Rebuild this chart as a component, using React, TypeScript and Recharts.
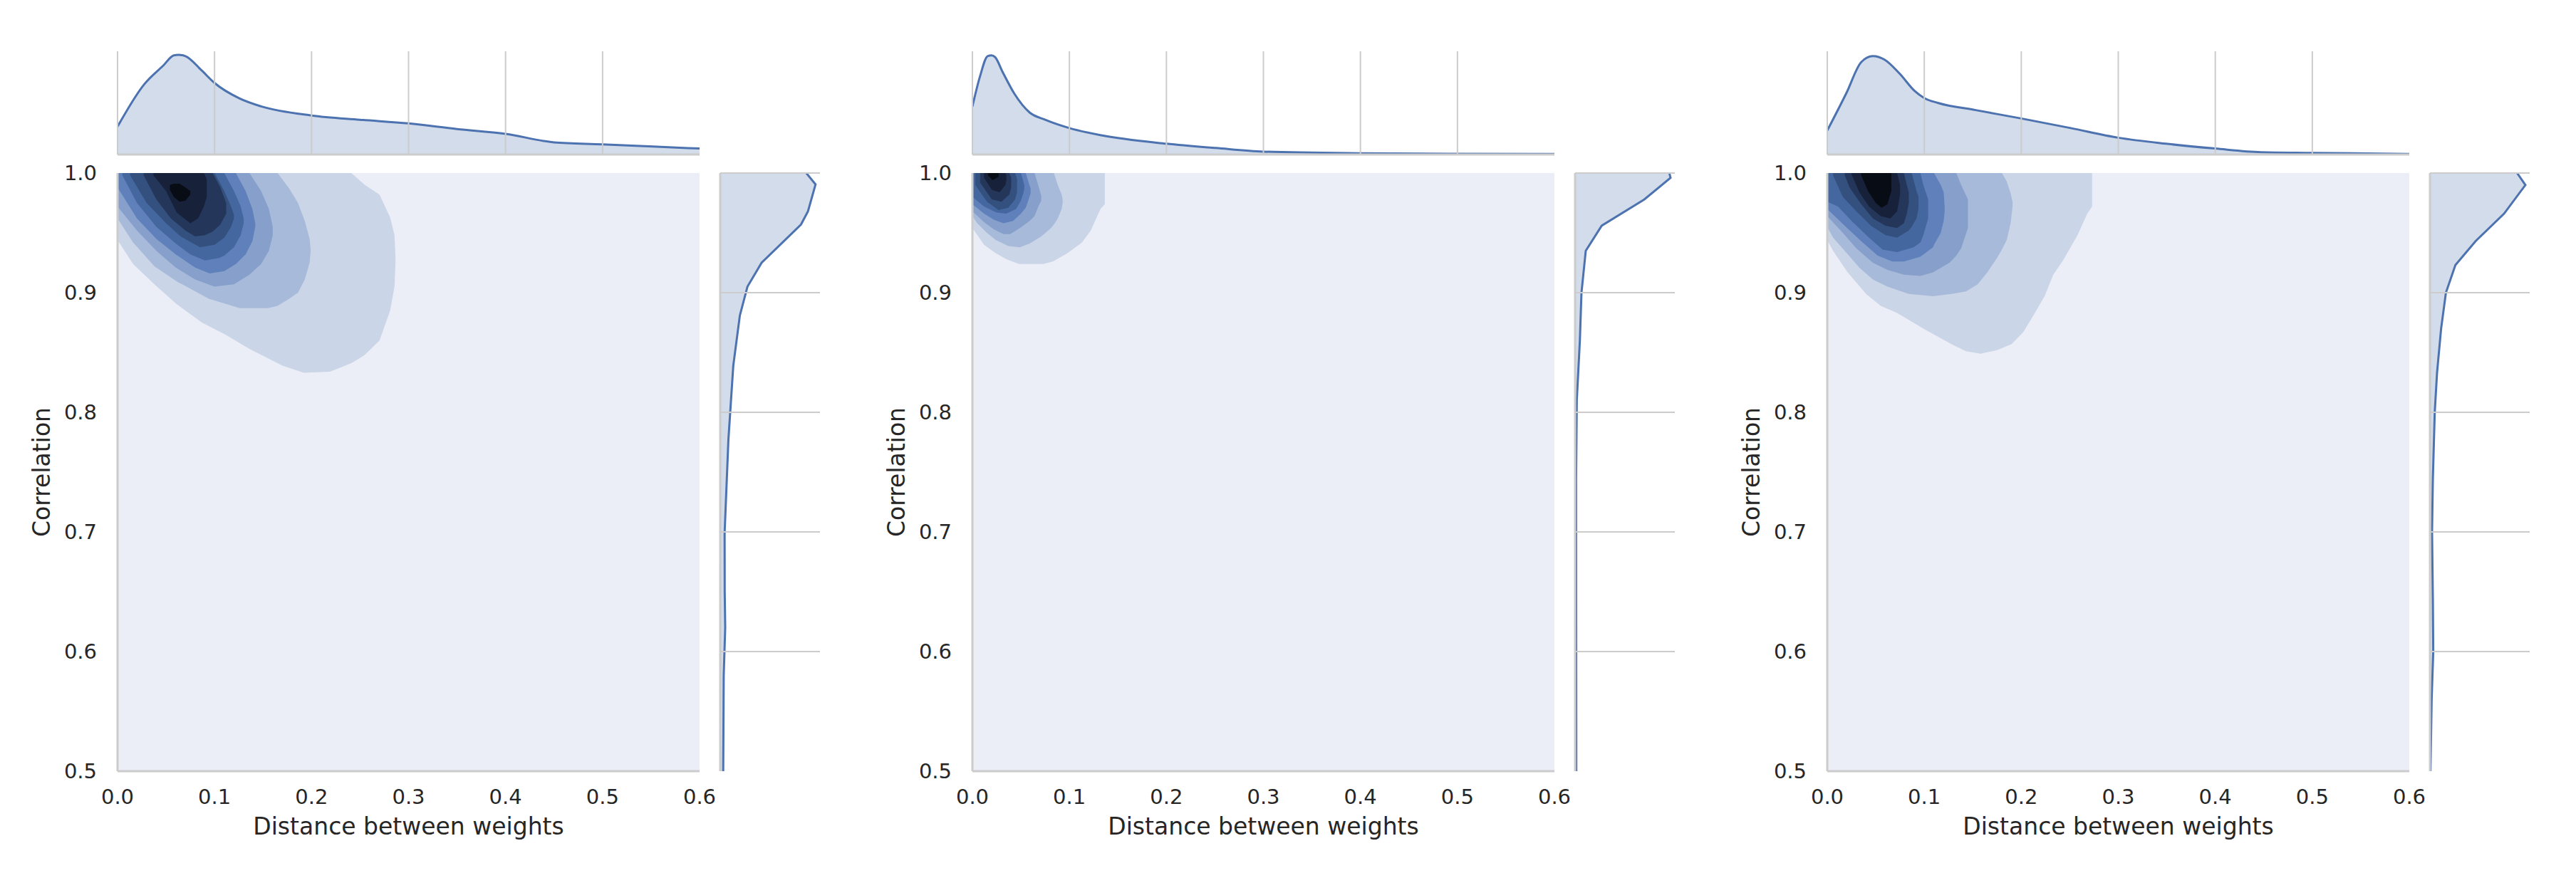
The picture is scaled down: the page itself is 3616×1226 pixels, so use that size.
import React from 'react';
import { ComposedChart, AreaChart, Area, XAxis, YAxis, CartesianGrid, ReferenceLine } from 'recharts';

type Band = [number, number, number];
type Pt = [number, number];

// ---------- axis ticks ----------
const xTicks = [0, 0.1, 0.2, 0.3, 0.4, 0.5, 0.6];
const yTicks = [0.5, 0.6, 0.7, 0.8, 0.9, 1.0];
const topGridTicks = [0, 0.1, 0.2, 0.3, 0.4, 0.5];
const sideGridTicks = [0.6, 0.7, 0.8, 0.9, 1.0];

const xLabel = 'Distance between weights';
const yLabel = 'Correlation';

// ---------- KDE contour level colours (outer -> inner) ----------
const bgColor = '#EBEEF6';
const levelColors = ['#CAD5E7', '#A8BAD9', '#86A0CB', '#5F80BA', '#4567A0', '#33507E', '#24375A', '#17223A', '#080C14'];
const lineColor = '#4C72B0';
const gridColor = '#CCCCCC';

// ---------- panel 1 contour bands: [x, yLow, yHigh] ----------
const p1Levels: Band[][] = [
  [[0, .944, 1], [.016, .924, 1], [.038, .907, 1], [.06, .891, 1], [.087, .875, 1], [.111, .865, 1], [.136, .853, 1], [.17, .839, 1], [.192, .833, 1], [.219, .834, 1], [.241, .841, 1], [.255, .848, .99], [.27, .86, .982], [.281, .885, .963], [.2855, .905, .948], [.2865, .925, .93]],
  [[0, .962, 1], [.016, .942, 1], [.038, .922, 1], [.062, .909, 1], [.094, .895, 1], [.126, .887, 1], [.155, .887, 1], [.165, .889, 1], [.177, .895, .987], [.186, .9, .975], [.193, .911, .96], [.198, .925, .945], [.199, .934, .936]],
  [[0, .972, 1], [.02, .952, 1], [.04, .935, 1], [.06, .921, 1], [.08, .911, 1], [.1, .905, 1], [.12, .907, 1], [.136, .915, 1], [.148, .924, .985], [.156, .935, .97], [.16, .948, .955]],
  [[0, .988, 1], [.02, .962, 1], [.04, .945, 1], [.06, .932, 1], [.08, .921, 1], [.095, .916, 1], [.11, .918, 1], [.122, .924, 1], [.132, .932, .985], [.139, .943, .97], [.142, .955, .958]],
  [[.005, .998, 1], [.02, .975, 1], [.04, .955, 1], [.06, .941, 1], [.075, .932, 1], [.09, .927, 1], [.105, .929, 1], [.11, .931, 1], [.12, .938, .985], [.127, .948, .972], [.13, .958, .962]],
  [[.013, .998, 1], [.03, .975, 1], [.05, .958, 1], [.065, .947, 1], [.085, .938, 1], [.1, .94, 1], [.11, .946, .985], [.117, .955, .972], [.12, .962, .965]],
  [[.027, .998, 1], [.04, .978, 1], [.055, .962, 1], [.07, .952, 1], [.08, .947, 1], [.09, .948, 1], [.098, .951, 1], [.106, .957, .988], [.112, .966, .975]],
  [[.037, .998, 1], [.05, .985, 1], [.061, .967, 1], [.075, .958, 1], [.083, .962, 1], [.089, .972, 1], [.092, .98, .995]],
  [[.054, .986, .99], [.058, .98, .991], [.064, .976, .991], [.07, .977, .988], [.075, .982, .985]],
];

// ---------- panel 2 contour bands ----------
const p2Levels: Band[][] = [
  [[0, .954, 1], [.012, .94, 1], [.024, .933, 1], [.035, .928, 1], [.048, .924, 1], [.073, .924, 1], [.083, .926, 1], [.098, .933, 1], [.113, .942, 1], [.122, .952, 1], [.132, .97, 1], [.1365, .974, 1]],
  [[0, .964, 1], [.005, .958, 1], [.015, .95, 1], [.024, .944, 1], [.037, .939, 1], [.049, .938, 1], [.059, .941, 1], [.071, .947, 1], [.081, .954, 1], [.084, .957, 1], [.088, .962, .99], [.092, .97, .982], [.093, .975, .978]],
  [[0, .968, 1], [.012, .959, 1], [.022, .953, 1], [.032, .949, 1], [.039, .949, 1], [.049, .954, 1], [.059, .96, 1], [.064, .964, 1], [.066, .968, .995], [.0685, .973, .988], [.071, .977, .981]],
  [[0, .974, 1], [.012, .966, 1], [.022, .961, 1], [.032, .958, 1], [.042, .96, 1], [.05, .966, 1], [.055, .971, 1], [.058, .978, .992], [.06, .983, .987]],
  [[0, .98, 1], [.012, .972, 1], [.025, .967, 1], [.035, .966, 1], [.045, .97, 1], [.05, .977, 1], [.0525, .983, .993], [.0535, .987, .99]],
  [[.003, .99, 1], [.015, .976, 1], [.027, .969, 1], [.037, .971, 1], [.044, .978, 1], [.046, .984, .995]],
  [[.008, .992, 1], [.02, .978, 1], [.03, .976, 1], [.038, .982, 1], [.04, .988, .996]],
  [[.012, .996, 1], [.02, .986, 1], [.028, .984, 1], [.034, .99, 1], [.035, .994, .998]],
  [[.016, .998, 1], [.021, .994, 1], [.027, .997, 1]],
];

// ---------- panel 3 contour bands ----------
const p3Levels: Band[][] = [
  [[0, .944, 1], [.006, .935, 1], [.021, .917, 1], [.04, .899, 1], [.055, .889, 1], [.072, .883, 1], [.101, .869, 1], [.128, .857, 1], [.143, .851, 1], [.158, .849, 1], [.175, .852, 1], [.19, .857, 1], [.202, .867, 1], [.214, .883, 1], [.224, .897, 1], [.233, .915, 1], [.243, .927, 1], [.258, .948, 1], [.268, .966, 1], [.273, .972, 1]],
  [[0, .955, 1], [.006, .946, 1], [.018, .935, 1], [.033, .921, 1], [.047, .911, 1], [.062, .905, 1], [.084, .899, 1], [.109, .897, 1], [.128, .899, 1], [.143, .901, 1], [.155, .907, 1], [.165, .917, 1], [.175, .929, 1], [.18, .936, 1], [.185, .944, .993], [.189, .958, .983], [.191, .972, .976]],
  [[0, .964, 1], [.016, .95, 1], [.03, .937, 1], [.047, .925, 1], [.062, .919, 1], [.079, .915, 1], [.096, .914, 1], [.109, .917, 1], [.126, .925, 1], [.133, .931, 1], [.138, .937, .99], [.145, .954, .978]],
  [[0, .97, 1], [.018, .956, 1], [.035, .943, 1], [.052, .931, 1], [.067, .926, 1], [.079, .926, 1], [.096, .93, 1], [.109, .938, 1], [.11, .94, 1], [.117, .95, .99], [.12, .96, .984], [.121, .968, .972]],
  [[0, .976, 1], [.011, .972, 1], [.025, .96, 1], [.043, .946, 1], [.057, .936, 1], [.072, .934, 1], [.089, .938, 1], [.096, .942, 1], [.099, .948, .99], [.104, .962, .978]],
  [[.006, .998, 1], [.016, .98, 1], [.03, .968, 1], [.045, .956, 1], [.06, .948, 1], [.072, .946, 1], [.084, .952, 1], [.087, .955, 1], [.092, .962, .985], [.094, .97, .98]],
  [[.018, .998, 1], [.023, .988, 1], [.035, .974, 1], [.047, .962, 1], [.06, .956, 1], [.072, .954, 1], [.079, .958, 1], [.082, .966, .99], [.084, .975, .984]],
  [[.025, .999, 1], [.033, .984, 1], [.043, .972, 1], [.055, .964, 1], [.065, .962, 1], [.072, .968, 1], [.075, .982, .99]],
  [[.035, .998, 1], [.042, .985, 1], [.05, .975, 1], [.056, .971, 1], [.062, .974, 1], [.066, .985, 1]],
];

// ---------- top marginal densities: [x, density] ----------
const p1Top: Pt[] = [[0, .27], [.0275, .68], [.047, .86], [.058, .96], [.063, .965], [.07, .953], [.0865, .816], [.1, .693], [.126, .542], [.148, .466], [.2, .378], [.25, .337], [.3, .301], [.35, .247], [.4, .2], [.45, .118], [.5, .099], [.552, .077], [.6, .058]];
const p2Top: Pt[] = [[0, .465], [.0078, .756], [.0157, .953], [.0196, .96], [.0235, .942], [.031, .802], [.043, .593], [.059, .407], [.075, .337], [.1, .256], [.133, .186], [.2, .105], [.251, .063], [.3, .028], [.4, .012], [.5, .007], [.6, .005]];
const p3Top: Pt[] = [[0, .233], [.0196, .593], [.035, .895], [.047, .953], [.059, .919], [.075, .779], [.09, .616], [.1, .547], [.114, .5], [.153, .43], [.2, .349], [.251, .256], [.3, .163], [.349, .105], [.4, .058], [.447, .023], [.5, .016], [.6, .005]];

// ---------- right marginal densities: [correlation, density] ----------
const p1Side: Pt[] = [[1.0, .863], [.9905, .956], [.968, .88], [.957, .81], [.925, .415], [.905, .273], [.881, .197], [.839, .131], [.777, .082], [.699, .044], [.65, .045], [.62, .05], [.58, .035], [.5, .03]];
const p2Side: Pt[] = [[1.0, .945], [.996, .957], [.978, .695], [.956, .267], [.935, .107], [.9, .064], [.86, .048], [.81, .017], [.744, .01], [.5, .012]];
const p3Side: Pt[] = [[1.0, .874], [.99, .957], [.966, .743], [.943, .457], [.923, .255], [.9, .16], [.87, .112], [.833, .071], [.8, .048], [.744, .029], [.7, .021], [.644, .029], [.6, .033], [.56, .017], [.5, .005]];

const panelLefts = [165, 1365, 2565];

const font = 'DejaVu Sans';
const textColor = '#262626';
const fmt = (v: number) => v.toFixed(1);
const hiddenTick = { fontSize: 1, fill: 'transparent' };

type PanelProps = { left: number; levels: Band[][]; top: Pt[]; side: Pt[] };

function Panel({ left, levels, top, side }: PanelProps) {
  const topData = top.map(([x, d]) => ({ x, d }));
  const sideData = side.map(([y, d]) => ({ y, d }));
  const bandData = levels.map((lv) => lv.map(([x, lo, hi]) => ({ x, r: [lo, hi] })));
  const margLeft = left + 846;
  return (
    <>
      {/* top marginal */}
      <div style={{ position: 'absolute', left: left - 10, top: 62 }}>
        <AreaChart width={837} height={166} data={topData} margin={{ top: 10, right: 10, left: 10, bottom: 10 }}>
          <XAxis type="number" dataKey="x" domain={[0, 0.6]} ticks={topGridTicks} interval={0} tick={hiddenTick} tickLine={false}
            height={1} tickSize={0} tickMargin={0}
            axisLine={{ stroke: gridColor, strokeWidth: 3 }} allowDataOverflow />
          <YAxis type="number" domain={[0, 1]} hide />
          {topGridTicks.map((t) => (
            <ReferenceLine key={t} x={t} stroke={gridColor} strokeWidth={2} />
          ))}
          <Area type="monotone" dataKey="d" stroke={lineColor} strokeWidth={3} fill={lineColor} fillOpacity={0.25}
            isAnimationActive={false} dot={false} activeDot={false} />
        </AreaChart>
      </div>

      {/* main KDE */}
      <div style={{ position: 'absolute', left: left - 140, top: 213 }}>
        <ComposedChart width={997} height={980} margin={{ top: 30, right: 40, left: 20, bottom: 0 }}>
          <CartesianGrid horizontal={false} vertical={false} fill={bgColor} fillOpacity={1} />
          <XAxis type="number" dataKey="x" domain={[0, 0.6]} ticks={xTicks} interval={0} tickFormatter={fmt}
            height={110} tickSize={0} tickMargin={25} allowDataOverflow
            axisLine={{ stroke: gridColor, strokeWidth: 3 }}
            tick={{ fontSize: 29, fill: textColor, fontFamily: font }}
            label={{ value: xLabel, position: 'insideBottom', offset: 21, fontSize: 33, fill: textColor, fontFamily: font }} />
          <YAxis type="number" domain={[0.5, 1]} ticks={yTicks} interval={0} tickFormatter={fmt}
            width={120} tickSize={0} tickMargin={29} allowDataOverflow
            axisLine={{ stroke: gridColor, strokeWidth: 3 }}
            tick={{ fontSize: 29, fill: textColor, fontFamily: font }}
            label={{ value: yLabel, angle: -90, position: 'insideLeft', offset: 13, fontSize: 33, fill: textColor, fontFamily: font, style: { textAnchor: 'middle' } }} />
          {bandData.map((band, i) => (
            <Area key={i} data={band} dataKey="r" type="linear" stroke="none" fill={levelColors[i]} fillOpacity={1}
              isAnimationActive={false} dot={false} activeDot={false} />
          ))}
        </ComposedChart>
      </div>

      {/* right marginal */}
      <div style={{ position: 'absolute', left: margLeft - 11, top: 233 }}>
        <ComposedChart layout="vertical" width={161} height={860} data={sideData} margin={{ top: 10, right: 10, left: 10, bottom: 10 }}>
          <XAxis type="number" domain={[0, 1]} hide />
          <YAxis type="number" dataKey="y" domain={[0.5, 1]} ticks={sideGridTicks} interval={0} reversed
            tick={hiddenTick} tickLine={false} tickSize={0} tickMargin={0} width={1}
            axisLine={{ stroke: gridColor, strokeWidth: 3 }} allowDataOverflow />
          {sideGridTicks.map((t) => (
            <ReferenceLine key={t} y={t} stroke={gridColor} strokeWidth={2} />
          ))}
          <Area type="linear" dataKey="d" stroke={lineColor} strokeWidth={3} fill={lineColor} fillOpacity={0.25}
            isAnimationActive={false} dot={false} activeDot={false} />
        </ComposedChart>
      </div>
    </>
  );
}

export default function App() {
  const panels = [
    { levels: p1Levels, top: p1Top, side: p1Side },
    { levels: p2Levels, top: p2Top, side: p2Side },
    { levels: p3Levels, top: p3Top, side: p3Side },
  ];
  return (
    <div style={{ position: 'absolute', left: 0, top: 0, width: 3616, height: 1226, background: '#FFFFFF', fontFamily: font, overflow: 'hidden' }}>
      {panels.map((p, i) => (
        <Panel key={i} left={panelLefts[i]} levels={p.levels} top={p.top} side={p.side} />
      ))}
    </div>
  );
}
